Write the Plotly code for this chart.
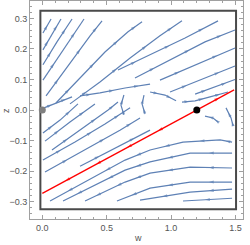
import plotly.graph_objects as go

# ---- data (w, z coordinates) ----
# streamlines: each entry is one polyline; STREAM_DIR gives flow direction along listed order
STREAM_W = [
    [0.005, 0.068],
    [0.005, 0.075, 0.145],
    [0.005, 0.114, 0.231],
    [0.005, 0.161, 0.324],
    [0.029, 0.2, 0.371, 0.464],
    [0.106, 0.293, 0.487, 0.666, 0.775],
    [0.215, 0.448, 0.682, 0.914, 1.085],
    [0.013, 0.122, 0.231],
    [0.293, 0.448, 0.643, 0.837],
    [0.588, 0.837, 1.109, 1.365],
    [0.72, 0.992, 1.264, 1.497],
    [0.914, 1.187, 1.497],
    [0.992, 1.225, 1.497],
    [1.187, 1.342, 1.497],
    [0.837, 0.953, 1.039],
    [1.085, 1.187, 1.303, 1.443],
    [0.634, 0.611, 0.634],
    [0.79, 0.775, 0.798],
    [0.005, 0.138, 0.277],
    [0.021, 0.215, 0.409],
    [0.075, 0.293, 0.511, 0.588],
    [0.005, 0.254, 0.487, 0.682],
    [0.021, 0.332, 0.603, 0.759],
    [0.293, 0.565, 0.837],
    [0.06, 0.371, 0.643, 0.837, 1.093, 1.381, 1.474],
    [0.161, 0.409, 0.643, 0.837, 1.148, 1.474],
    [0.332, 0.526, 0.643, 0.837, 1.148, 1.474],
    [0.58, 0.837, 1.148, 1.474],
    [0.759, 1.148, 1.474],
    [1.093, 1.474],
    [1.427, 1.466, 1.482],
    [1.264, 1.326, 1.365],
]
STREAM_Z = [
    [0.252, 0.298],
    [0.197, 0.249, 0.298],
    [0.148, 0.223, 0.298],
    [0.098, 0.197, 0.298],
    [0.046, 0.144, 0.243, 0.292],
    [0.023, 0.105, 0.19, 0.256, 0.289],
    [0.02, 0.092, 0.17, 0.243, 0.292],
    [0.007, 0.026, 0.043],
    [0.046, 0.056, 0.072, 0.085],
    [0.131, 0.18, 0.236, 0.292],
    [0.105, 0.164, 0.223, 0.262],
    [0.098, 0.148, 0.203],
    [0.059, 0.098, 0.144],
    [0.052, 0.075, 0.1],
    [0.059, 0.049, 0.03],
    [0.026, 0.03, 0.043, 0.059],
    [0.049, 0.016, -0.016],
    [0.049, 0.02, -0.013],
    [-0.075, -0.033, 0.02],
    [-0.102, -0.039, 0.02],
    [-0.131, -0.066, 0.0, 0.026],
    [-0.164, -0.105, -0.046, 0.007],
    [-0.203, -0.131, -0.066, -0.026],
    [-0.184, -0.125, -0.066],
    [-0.298, -0.226, -0.164, -0.131, -0.105, -0.098, -0.105],
    [-0.298, -0.246, -0.197, -0.17, -0.141, -0.141],
    [-0.298, -0.259, -0.236, -0.207, -0.187, -0.19],
    [-0.298, -0.256, -0.236, -0.236],
    [-0.295, -0.269, -0.259],
    [-0.298, -0.289],
    [0.007, -0.026, -0.052],
    [-0.02, -0.026, -0.039],
]
STREAM_DIR = [1, 1, 1, 1, 1, 1, 1, 1, 1, 1, 1, 1, 1, 1, 1, 1, -1, -1,
              1, 1, 1, 1, 1, 1, -1, -1, -1, -1, -1, -1, -1, -1]

SEPARATRIX_W = [0.0, 1.2, 1.49]
SEPARATRIX_Z = [-0.273, 0.0, 0.066]

FIXED_W = [0.0, 1.2]
FIXED_Z = [0.0, 0.0]
FIXED_COLORS = ["#808080", "#000000"]

BOX_W = [-0.015, 1.505]
BOX_Z = [-0.325, 0.325]

X_RANGE = [-0.0956, 1.559]
Y_RANGE = [-0.357, 0.357]

STREAM_COLOR = "#5E81B5"
RED = "#FF0000"
FONT = "Liberation Sans, Arial, sans-serif"


def arrow_points(ws, zs, direction, frac=0.55):
    """positions of arrowheads (middle of each segment) plus a point just behind each"""
    if direction < 0:
        ws, zs = ws[::-1], zs[::-1]
    ax, ay, sizes = [], [], []
    for i in range(len(ws) - 1):
        w0, z0, w1, z1 = ws[i], zs[i], ws[i + 1], zs[i + 1]
        wm, zm = w0 + frac * (w1 - w0), z0 + frac * (z1 - z0)
        wb, zb = w0 + (frac - 0.1) * (w1 - w0), z0 + (frac - 0.1) * (z1 - z0)
        ax += [wb, wm]
        ay += [zb, zm]
        sizes += [0, 5]
    return ax, ay, sizes


fig = go.Figure()

# streamlines
lx, ly = [], []
for ws, zs in zip(STREAM_W, STREAM_Z):
    lx += ws + [None]
    ly += zs + [None]
fig.add_trace(go.Scatter(x=lx, y=ly, mode="lines",
                         line=dict(color=STREAM_COLOR, width=1.2),
                         hoverinfo="skip", showlegend=False))

ax, ay, sz = [], [], []
for ws, zs, d in zip(STREAM_W, STREAM_Z, STREAM_DIR):
    a, b, s = arrow_points(ws, zs, d)
    ax += a
    ay += b
    sz += s
fig.add_trace(go.Scatter(x=ax, y=ay, mode="markers",
                         marker=dict(symbol="arrow", size=sz, color=STREAM_COLOR,
                                     angleref="previous", line=dict(width=0)),
                         hoverinfo="skip", showlegend=False))

# separatrix (red)
fig.add_trace(go.Scatter(x=SEPARATRIX_W, y=SEPARATRIX_Z, mode="lines",
                         line=dict(color=RED, width=1.3),
                         hoverinfo="skip", showlegend=False))
rx, ry, rs = [], [], []
for seg_w, seg_z in ([[SEPARATRIX_W[1], SEPARATRIX_W[0]], [SEPARATRIX_Z[1], SEPARATRIX_Z[0]]],
                     [[SEPARATRIX_W[1], SEPARATRIX_W[2]], [SEPARATRIX_Z[1], SEPARATRIX_Z[2]]]):
    for f in ([0.25, 0.45, 0.65, 0.85] if seg_w[1] < seg_w[0] else [0.6]):
        a, b, s = arrow_points(seg_w, seg_z, 1, frac=f)
        rx += a
        ry += b
        rs += s
fig.add_trace(go.Scatter(x=rx, y=ry, mode="markers",
                         marker=dict(symbol="arrow", size=rs, color=RED,
                                     angleref="previous", line=dict(width=0)),
                         hoverinfo="skip", showlegend=False))

# fixed points
fig.add_trace(go.Scatter(x=FIXED_W, y=FIXED_Z, mode="markers",
                         marker=dict(size=7, color=FIXED_COLORS),
                         hoverinfo="skip", showlegend=False))

# inner region box
fig.add_shape(type="rect", x0=BOX_W[0], x1=BOX_W[1], y0=BOX_Z[0], y1=BOX_Z[1],
              line=dict(color="#4a4a4a", width=2), layer="below")

axis_common = dict(showgrid=False, zeroline=False, showline=True, linecolor="#a0a0a0",
                   linewidth=1, mirror="allticks", ticks="inside", ticklen=4,
                   tickcolor="#a0a0a0", tickwidth=1, automargin=False,
                   tickfont=dict(family=FONT, size=9, color="#555555"),
                   tickformat=".1f")
fig.update_xaxes(range=X_RANGE, dtick=0.5, tick0=0,
                 minor=dict(dtick=0.1, ticklen=2, ticks="inside", tickcolor="#a0a0a0"),
                 **axis_common)
fig.update_yaxes(range=Y_RANGE, dtick=0.1, tick0=0,
                 minor=dict(dtick=0.02, ticklen=2, ticks="inside", tickcolor="#a0a0a0"),
                 **axis_common)

fig.add_annotation(text="w", xref="paper", yref="paper", x=0.507, y=-0.087,
                   showarrow=False, xanchor="center", yanchor="middle",
                   font=dict(family=FONT, size=9, color="#555555"))
fig.add_annotation(text="z", xref="paper", yref="paper", x=-0.113, y=0.5,
                   showarrow=False, xanchor="center", yanchor="middle", textangle=-90,
                   font=dict(family=FONT, size=9, color="#555555"))

fig.update_layout(width=250, height=245, margin=dict(l=30, r=7, t=1, b=26),
                  paper_bgcolor="white", plot_bgcolor="white")

fig.write_html("out.html", config={"displayModeBar": False},
               post_script="document.body.style.margin='0';document.body.style.overflow='hidden';")
